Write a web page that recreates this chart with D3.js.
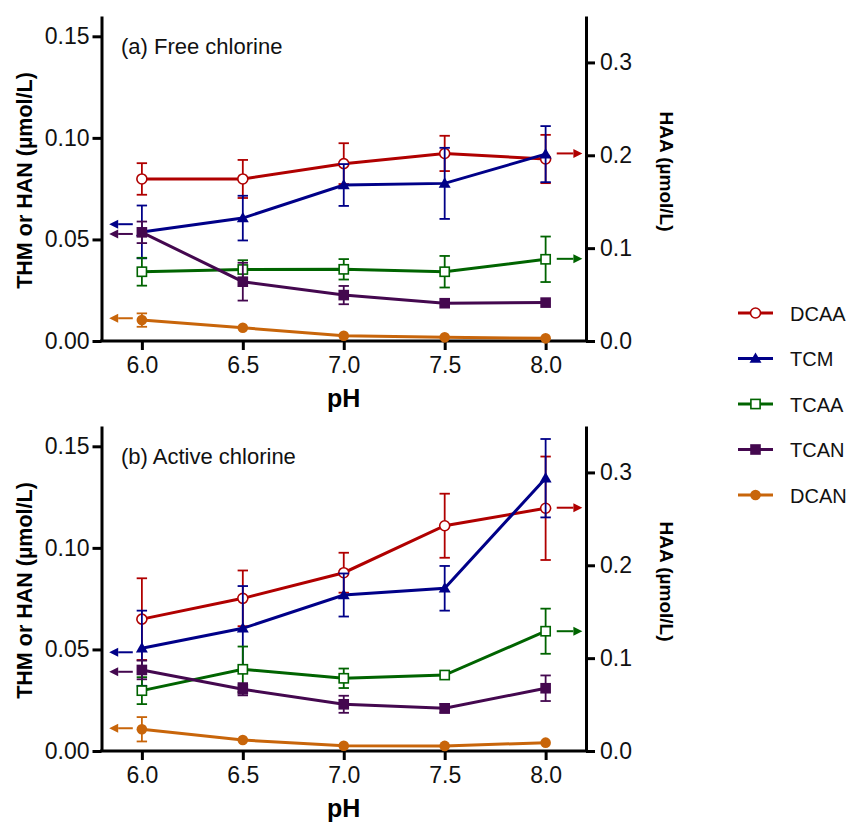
<!DOCTYPE html>
<html>
<head>
<meta charset="utf-8">
<script src="https://cdn.jsdelivr.net/npm/d3@7"></script>
<style>
  html, body { margin: 0; padding: 0; background: #fff; }
  svg { display: block; font-family: "Liberation Sans", Arial, Helvetica, sans-serif; }
</style>
</head>
<body>
<svg id="chart" width="851" height="823"></svg>
<script>
// ---------- data ----------
const pH = [6.0, 6.5, 7.0, 7.5, 8.0];
const xTicks = [6.0, 6.5, 7.0, 7.5, 8.0];
const leftTicks = [0.00, 0.05, 0.10, 0.15];
const rightTicks = [0.0, 0.1, 0.2, 0.3];
const seriesNames = ["DCAA", "TCM", "TCAA", "TCAN", "DCAN"];
const seriesAxis = ["right", "left", "right", "left", "left"];
const panelTitles = ["(a) Free chlorine", "(b) Active chlorine"];

// (a) Free chlorine
const freeDCAA = [0.1745, 0.1745, 0.191, 0.202, 0.196];
const freeDCAAErr = [0.017, 0.0205, 0.022, 0.019, 0.026];
const freeTCM = [0.0537, 0.0605, 0.0768, 0.0776, 0.092];
const freeTCMErr = [0.013, 0.011, 0.0103, 0.0175, 0.0138];
const freeTCAA = [0.0746, 0.077, 0.0772, 0.0746, 0.088];
const freeTCAAErr = [0.015, 0.01, 0.011, 0.017, 0.0245];
const freeTCAN = [0.0535, 0.0292, 0.0226, 0.0186, 0.0189];
const freeTCANErr = [0.0053, 0.0093, 0.0045, 0, 0];
const freeDCAN = [0.0103, 0.0065, 0.0026, 0.0018, 0.0013];
const freeDCANErr = [0.0033, 0, 0, 0, 0];
const freeArrows = [0.202, 0.0575, 0.0885, 0.0527, 0.0112];

// (b) Active chlorine
const activeDCAA = [0.142, 0.1644, 0.192, 0.2426, 0.2614];
const activeDCAAErr = [0.044, 0.03, 0.0215, 0.0345, 0.0557];
const activeTCM = [0.0506, 0.0604, 0.0768, 0.0801, 0.1343];
const activeTCMErr = [0.0185, 0.0208, 0.0106, 0.011, 0.0193];
const activeTCAA = [0.065, 0.088, 0.0783, 0.0818, 0.129];
const activeTCAAErr = [0.0145, 0.0245, 0.0105, 0, 0.0243];
const activeTCAN = [0.0399, 0.0304, 0.023, 0.021, 0.0309];
const activeTCANErr = [0.0046, 0.003, 0.0042, 0.0022, 0.0063];
const activeDCAN = [0.0107, 0.0054, 0.0026, 0.0025, 0.0041];
const activeDCANErr = [0.006, 0, 0, 0, 0];
const activeArrows = [0.262, 0.0486, 0.129, 0.039, 0.0112];

// ---------- styles ----------
const colors = { DCAA: "#b00000", TCM: "#000088", TCAA: "#006400", TCAN: "#44084f", DCAN: "#c8650a" };
const markers = { DCAA: "openCircle", TCM: "triangle", TCAA: "openSquare", TCAN: "square", DCAN: "circle" };

const panels = [
  { title: panelTitles[0], top: 16, values: [freeDCAA, freeTCM, freeTCAA, freeTCAN, freeDCAN],
    errs: [freeDCAAErr, freeTCMErr, freeTCAAErr, freeTCANErr, freeDCANErr], arrows: freeArrows },
  { title: panelTitles[1], top: 426, values: [activeDCAA, activeTCM, activeTCAA, activeTCAN, activeDCAN],
    errs: [activeDCAAErr, activeTCMErr, activeTCAAErr, activeTCANErr, activeDCANErr], arrows: activeArrows }
];

const svg = d3.select("#chart");
const plotLeft = 101.5, plotRight = 586, plotH = 325;
const x = d3.scaleLinear().domain([5.8, 8.2]).range([plotLeft, plotRight]);

function drawMarker(g, type, cx, cy, color) {
  if (type === "openCircle") {
    g.append("circle").attr("cx", cx).attr("cy", cy).attr("r", 5)
      .attr("fill", "#fff").attr("stroke", color).attr("stroke-width", 1.6);
  } else if (type === "circle") {
    g.append("circle").attr("cx", cx).attr("cy", cy).attr("r", 5.3).attr("fill", color);
  } else if (type === "openSquare") {
    g.append("rect").attr("x", cx - 4.6).attr("y", cy - 4.6).attr("width", 9.2).attr("height", 9.2)
      .attr("fill", "#fff").attr("stroke", color).attr("stroke-width", 1.6);
  } else if (type === "square") {
    g.append("rect").attr("x", cx - 5.3).attr("y", cy - 5.3).attr("width", 10.6).attr("height", 10.6)
      .attr("fill", color);
  } else if (type === "triangle") {
    g.append("path").attr("d", d3.symbol().type(d3.symbolTriangle).size(62)())
      .attr("transform", `translate(${cx},${cy + 0.8})`).attr("fill", color);
  }
}

panels.forEach((p, pi) => {
  const yL = d3.scaleLinear().domain([0, 0.16]).range([p.top + plotH, p.top]);
  const yR = d3.scaleLinear().domain([0, 0.35]).range([p.top + plotH, p.top]);
  const g = svg.append("g");

  // axes
  const axL = g.append("g").attr("transform", `translate(${plotLeft},0)`)
    .call(d3.axisLeft(yL).tickValues(leftTicks).tickFormat(d3.format(".2f")).tickSize(9).tickPadding(3).tickSizeOuter(0));
  const axR = g.append("g").attr("transform", `translate(${plotRight},0)`)
    .call(d3.axisRight(yR).tickValues(rightTicks).tickFormat(d3.format(".1f")).tickSize(9).tickPadding(5).tickSizeOuter(0));
  const axB = g.append("g").attr("transform", `translate(0,${p.top + plotH})`)
    .call(d3.axisBottom(x).tickValues(xTicks).tickFormat(d3.format(".1f")).tickSize(9).tickPadding(7).tickSizeOuter(0));
  [axL, axR, axB].forEach(a => {
    a.select(".domain").attr("stroke", "#000").attr("stroke-width", 3);
    a.selectAll(".tick line").attr("stroke", "#000").attr("stroke-width", 3);
    a.selectAll(".tick text").attr("fill", "#111").attr("font-size", 23)
      .attr("font-family", '"Liberation Sans", Arial, sans-serif');
  });
  axB.select(".domain").attr("d", `M${plotLeft - 1.5},0H${plotRight + 1.5}`);

  // axis titles
  g.append("text")
    .attr("transform", `translate(32,${p.top + plotH / 2 + 2}) rotate(-90)`)
    .attr("text-anchor", "middle").attr("font-size", 21.5).attr("font-weight", "bold")
    .text("THM or HAN (µmol/L)");
  g.append("text")
    .attr("transform", `translate(660,${p.top + plotH / 2 - 7}) rotate(90)`)
    .attr("text-anchor", "middle").attr("font-size", 19).attr("font-weight", "bold")
    .text("HAA (µmol/L)");
  g.append("text")
    .attr("x", x(7.0)).attr("y", p.top + plotH + 66)
    .attr("text-anchor", "middle").attr("font-size", 25).attr("font-weight", "bold")
    .text("pH");

  // panel label
  g.append("text").attr("x", 121).attr("y", p.top + 37.5)
    .attr("font-size", 22).attr("fill", "#111").text(p.title);

  // series
  seriesNames.forEach((name, si) => {
    const ys = seriesAxis[si] === "left" ? yL : yR;
    const vals = p.values[si], errs = p.errs[si], col = colors[name];
    const sg = g.append("g");
    // error bars
    vals.forEach((v, i) => {
      const e = errs[i];
      if (!e) return;
      const cx = x(pH[i]);
      sg.append("line").attr("x1", cx).attr("x2", cx).attr("y1", ys(v - e)).attr("y2", ys(v + e))
        .attr("stroke", col).attr("stroke-width", 1.8);
      [v - e, v + e].forEach(b => {
        sg.append("line").attr("x1", cx - 5.2).attr("x2", cx + 5.2).attr("y1", ys(b)).attr("y2", ys(b))
          .attr("stroke", col).attr("stroke-width", 1.8);
      });
    });
    // line
    sg.append("path").datum(vals)
      .attr("d", d3.line().x((d, i) => x(pH[i])).y(d => ys(d)))
      .attr("fill", "none").attr("stroke", col).attr("stroke-width", 3);
    // markers
    vals.forEach((v, i) => drawMarker(sg, markers[name], x(pH[i]), ys(v), col));

    // arrows
    const av = p.arrows[si];
    const ay = ys(av);
    const fromPH = seriesAxis[si] === "left" ? 5.955 : 8.055;
    const toPH = seriesAxis[si] === "left" ? 5.838 : 8.182;
    const x0 = x(fromPH), x1 = x(toPH);
    const dir = x1 > x0 ? 1 : -1;
    const head = 9;
    sg.append("line").attr("x1", x0).attr("x2", x1 - dir * head).attr("y1", ay).attr("y2", ay)
      .attr("stroke", col).attr("stroke-width", 2);
    sg.append("path")
      .attr("d", `M${x1},${ay}L${x1 - dir * head},${ay - 4.5}L${x1 - dir * head},${ay + 4.5}Z`)
      .attr("fill", col);
  });
});

// legend
const legendY = d3.scalePoint().domain(seriesNames).range([313, 495]);
const lg = svg.append("g");
seriesNames.forEach(name => {
  const cy = legendY(name), col = colors[name];
  lg.append("line").attr("x1", 738).attr("x2", 773).attr("y1", cy).attr("y2", cy)
    .attr("stroke", col).attr("stroke-width", 3);
  drawMarker(lg, markers[name], 755.5, cy, col);
  lg.append("text").attr("x", 790).attr("y", cy + 7.5).attr("font-size", 20).attr("fill", "#111").text(name);
});
</script>
</body>
</html>
